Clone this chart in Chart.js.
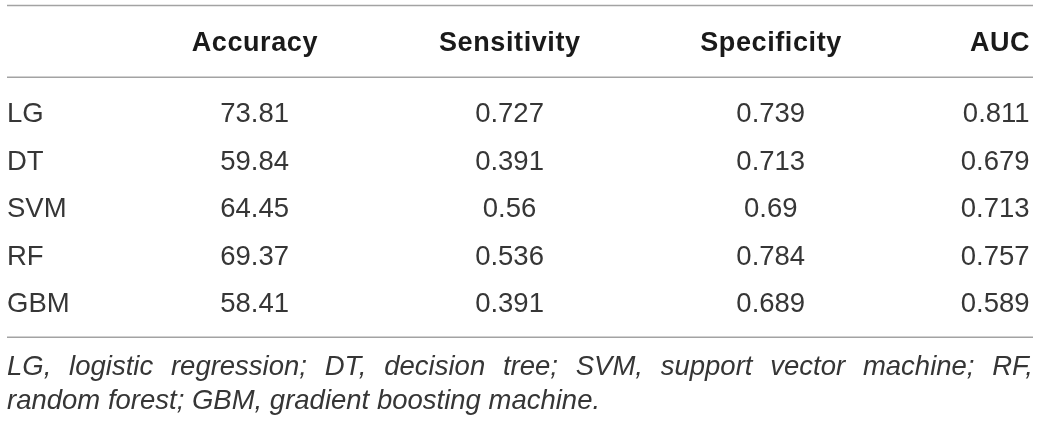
<!DOCTYPE html>
<html>
<head>
<meta charset="utf-8">
<script src="https://cdn.jsdelivr.net/npm/chart.js@4.4.1/dist/chart.umd.min.js"></script>
<style>
  html, body { margin: 0; padding: 0; background: #ffffff; }
  #c { display: block; }
</style>
</head>
<body>
<canvas id="c" width="1040" height="423"></canvas>
<script>
// ---- data ----
const models = ['LG', 'DT', 'SVM', 'RF', 'GBM'];
const metrics = ['Accuracy', 'Sensitivity', 'Specificity', 'AUC'];
const accuracy = [73.81, 59.84, 64.45, 69.37, 58.41];
const sensitivity = [0.727, 0.391, 0.56, 0.536, 0.391];
const specificity = [0.739, 0.713, 0.69, 0.784, 0.689];
const auc = [0.811, 0.679, 0.713, 0.757, 0.589];
const footnoteLines = [
  'LG, logistic regression; DT, decision tree; SVM, support vector machine; RF,',
  'random forest; GBM, gradient boosting machine.'
];

const columns = [accuracy, sensitivity, specificity, auc];
// column anchors on the x scale (0..1) and alignment
const colAnchor = [0.2413, 0.4898, 0.7444, 0.9967];
const colAlign = ['center', 'center', 'center', 'right'];

const FONT_BODY = '27.5px "Liberation Sans", Arial, sans-serif';
const FONT_HEAD = 'bold 27px "Liberation Sans", Arial, sans-serif';
const FONT_NOTE = 'italic 27.5px "Liberation Sans", Arial, sans-serif';
const HEAD_SPACING = 0.6;

const tablePlugin = {
  id: 'tablePlugin',
  afterDraw(chart) {
    const ctx = chart.ctx;
    const xs = chart.scales.x;
    const ys = chart.scales.y;
    const area = chart.chartArea;
    ctx.save();

    // rules
    ctx.strokeStyle = '#a3a3a3';
    ctx.lineWidth = 1.6;
    const rule = (y) => {
      ctx.beginPath();
      ctx.moveTo(area.left, y);
      ctx.lineTo(area.right, y);
      ctx.stroke();
    };
    rule(5.5);
    rule(area.top - 11);
    rule(area.bottom + 11.5);

    // header
    ctx.font = FONT_HEAD;
    ctx.fillStyle = '#1a1a1a';
    ctx.textBaseline = 'alphabetic';
    try { ctx.letterSpacing = HEAD_SPACING + 'px'; } catch (e) {}
    const headBase = area.top - 37;
    metrics.forEach((m, i) => {
      const x = xs.getPixelForValue(colAnchor[i]);
      const w = ctx.measureText(m).width;
      let left;
      if (colAlign[i] === 'right') left = x - w + HEAD_SPACING;
      else left = x - w / 2 + HEAD_SPACING / 2;
      ctx.textAlign = 'left';
      ctx.fillText(m, left, headBase);
    });
    try { ctx.letterSpacing = '0px'; } catch (e) {}

    // body
    ctx.font = FONT_BODY;
    ctx.fillStyle = '#363636';
    models.forEach((name, r) => {
      const yc = ys.getPixelForValue(r);
      const base = yc + 10;
      ctx.textAlign = 'left';
      ctx.fillText(name, area.left, base);
      columns.forEach((col, c) => {
        ctx.textAlign = colAlign[c];
        ctx.fillText(String(col[r]), xs.getPixelForValue(colAnchor[c]), base);
      });
    });

    // footnote (first line justified)
    ctx.font = FONT_NOTE;
    ctx.fillStyle = '#363636';
    ctx.textAlign = 'left';
    const noteBase = [area.bottom + 49, area.bottom + 83];
    footnoteLines.forEach((line, li) => {
      const words = line.split(' ');
      const y = noteBase[li];
      if (li < footnoteLines.length - 1) {
        const total = words.reduce((s, w) => s + ctx.measureText(w).width, 0);
        const gap = (area.right - area.left - total) / (words.length - 1);
        let x = area.left;
        words.forEach((w) => {
          ctx.fillText(w, x, y);
          x += ctx.measureText(w).width + gap;
        });
      } else {
        ctx.fillText(line, area.left, y);
      }
    });
    ctx.restore();
  }
};

new Chart(document.getElementById('c'), {
  type: 'scatter',
  data: { labels: models, datasets: [] },
  options: {
    responsive: false,
    animation: false,
    events: [],
    layout: { padding: { top: 88.25, bottom: 97.25, left: 7, right: 7 } },
    plugins: { legend: { display: false }, tooltip: { enabled: false } },
    scales: {
      x: { type: 'linear', min: 0, max: 1, display: false },
      y: { type: 'category', labels: models, offset: true, display: false }
    }
  },
  plugins: [tablePlugin]
});
</script>
</body>
</html>
